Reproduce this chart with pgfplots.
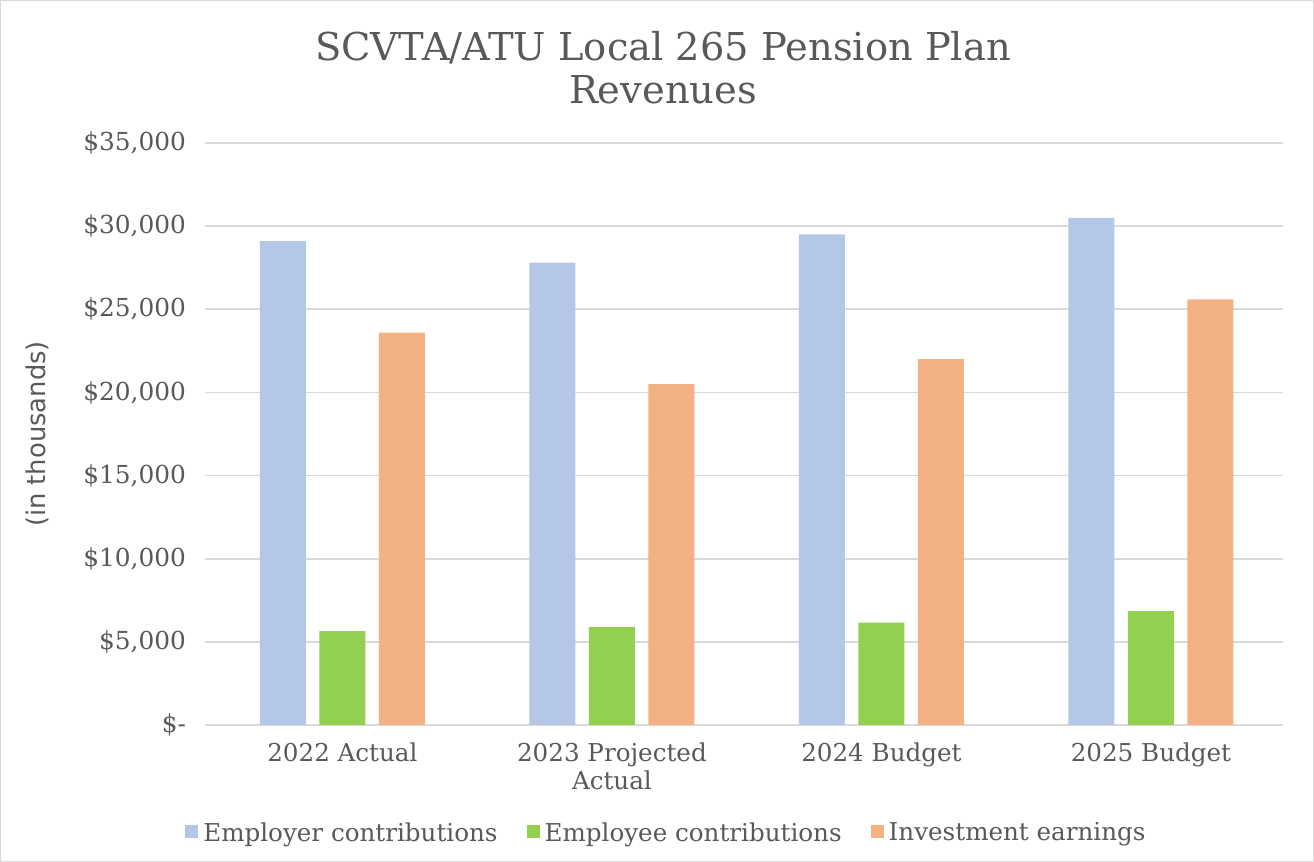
\documentclass[border=0pt]{standalone}
\usepackage{pgfplots}
\pgfplotsset{compat=1.18}
\usepackage{fontspec}
\setmainfont{DejaVu Serif}
\newfontfamily\labelsans{DejaVu Sans}
\definecolor{txt}{HTML}{595959}
\definecolor{gridgray}{HTML}{D9D9D9}
\definecolor{employer}{HTML}{B4C7E7}
\definecolor{employee}{HTML}{92D050}
\definecolor{invest}{HTML}{F4B183}

\begin{document}
\begin{tikzpicture}
\begin{axis}[
  scale only axis, width=539pt, height=291pt,
  ybar=6.75pt, bar width=23pt,
  xmin=-0.51, xmax=3.49, ymin=0, ymax=35000,
  scaled y ticks=false,
  xtick={0,1,2,3},
  xticklabels={2022 Actual,{2023 Projected\\Actual},2024 Budget,2025 Budget},
  xticklabel style={align=center, font=\fontsize{12.3}{14}\selectfont, text=txt, yshift=-5.5pt},
  ytick={0,5000,10000,15000,20000,25000,30000,35000},
  yticklabels={{\$-},{\$5,000},{\$10,000},{\$15,000},{\$20,000},{\$25,000},{\$30,000},{\$35,000}},
  yticklabel style={font=\fontsize{12.4}{14}\selectfont, text=txt, xshift=-6pt},
  axis line style={draw=none},
  major tick length=0pt,
  ymajorgrids,
  grid style={line width=0.8pt, color=gridgray},
  legend columns=3,
  legend style={draw=none, at={(0.429,-0.186)}, anchor=center,
    font=\fontsize{12.3}{14}\selectfont, text=txt,
    /tikz/every odd column/.append style={column sep=0.5pt},
    /tikz/every even column/.append style={column sep=12.5pt}},
  legend image code/.code={\fill[#1] (0pt,-2.6pt) rectangle (6.5pt,3.9pt);},
]
\addplot[fill=employer, draw=none] coordinates {(0,29100) (1,27800) (2,29500) (3,30500)};
\addplot[fill=employee, draw=none] coordinates {(0,5650) (1,5900) (2,6150) (3,6850)};
\addplot[fill=invest, draw=none] coordinates {(0,23600) (1,20500) (2,22000) (3,25600)};
\legend{Employer contributions, Employee contributions, Investment earnings}
\end{axis}
\node[align=center, text=txt, font=\fontsize{19.2}{21.5}\selectfont] at (229pt,328.5pt)
  {SCVTA/ATU Local 265 Pension Plan\\Revenues};
\node[rotate=90, text=txt, font=\labelsans\fontsize{12.9}{15}\selectfont] at (-84pt,145.5pt) {(in thousands)};
\draw[gridgray, line width=0.6pt] (-102.2pt,-68.2pt) rectangle (554.2pt,362.2pt);
\end{tikzpicture}
\end{document}
